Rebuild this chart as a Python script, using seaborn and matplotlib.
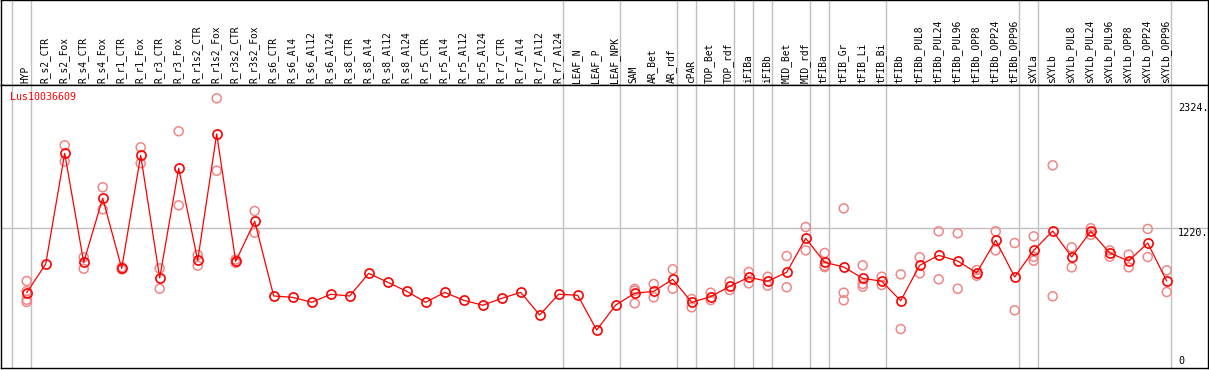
"""
plot.py

Expression profile of Lus10036609 across tissues / treatments.
Mean per sample (red line) with single replicates (light circles).
"""

# =============================================================================
# IMPORTS
# =============================================================================

import numpy as np
import pandas as pd

import matplotlib
matplotlib.use("Agg")
import matplotlib.pyplot as plt
import seaborn as sns


# =============================================================================
# DATA
# =============================================================================

GENE_ID = "Lus10036609"

samples = [
    "HYP",
    "R_s2_CTR", "R_s2_Fox", "R_s4_CTR", "R_s4_Fox",
    "R_r1_CTR", "R_r1_Fox", "R_r3_CTR", "R_r3_Fox",
    "R_r1s2_CTR", "R_r1s2_Fox", "R_r3s2_CTR", "R_r3s2_Fox",
    "R_s6_CTR", "R_s6_Al4", "R_s6_Al12", "R_s6_Al24",
    "R_s8_CTR", "R_s8_Al4", "R_s8_Al12", "R_s8_Al24",
    "R_r5_CTR", "R_r5_Al4", "R_r5_Al12", "R_r5_Al24",
    "R_r7_CTR", "R_r7_Al4", "R_r7_Al12", "R_r7_Al24",
    "LEAF_N", "LEAF_P", "LEAF_NPK",
    "SAM", "AR_Bet", "AR_rdf", "cPAR", "TOP_Bet", "TOP_rdf",
    "iFIBa", "iFIBb", "MID_Bet", "MID_rdf",
    "tFIBa", "tFIB_Gr", "tFIB_Li", "tFIB_Bi",
    "tFIBb", "tFIBb_PUL8", "tFIBb_PUL24", "tFIBb_PUL96",
    "tFIBb_OPP8", "tFIBb_OPP24", "tFIBb_OPP96",
    "sXYLa",
    "sXYLb", "sXYLb_PUL8", "sXYLb_PUL24", "sXYLb_PUL96",
    "sXYLb_OPP8", "sXYLb_OPP24", "sXYLb_OPP96",
]

mean_expr = [
    652, 905, 1883, 920, 1486, 867, 1865, 782, 1751, 938, 2054, 929, 1283,
    623, 611, 567, 638, 623, 823, 744, 664, 567, 655, 585, 541, 602, 655,
    455, 638, 629, 322, 543,
    647, 664, 770, 567, 617, 708, 788, 753, 832, 1132, 920, 879, 779, 753,
    581, 894, 982, 932, 826, 1115, 791, 1026, 1197, 967, 1194, 1003, 932,
    1091, 755,
]

replicates = [
    [755, 665, 590, 570], [], [1954, 1812], [965, 864], [1583, 1389],
    [876, 858], [1936, 1795], [867, 687], [2078, 1424], [985, 890],
    [2369, 1730], [945, 915], [1374, 1182],
    [], [], [], [], [], [], [], [], [], [], [], [], [], [], [], [], [], [], [],
    [685, 670, 558], [729, 611], [859, 687], [596, 523], [652, 587],
    [749, 676], [835, 735], [793, 714], [976, 700], [1232, 1026],
    [1003, 890, 878], [1397, 652, 585], [894, 729, 705], [793, 720],
    [814, 331], [965, 823], [1194, 770], [1177, 687], [852, 802],
    [1194, 1026], [1091, 496], [1150, 970, 935], [1777, 620],
    [1053, 876], [1221, 1164], [1026, 970], [988, 876], [1215, 967],
    [850, 658],
]

# last sample index of each group (group separators)
group_ends = [-1, 0, 28, 31, 34, 35, 37, 38, 39, 41, 42, 45, 52, 53, 60]

scale_labels = ["2324.", "1220.", "0"]
scale_values = [2324, 1220, 0]


# =============================================================================
# CONFIGURATION
# =============================================================================

W, H = 1209, 370

MEAN_COLOR = "#ff0000"
REP_COLOR = "#f08686"
GRID_COLOR = "#c0c0c0"

sns.set_style("white")
plt.rcParams["font.family"] = ["DejaVu Sans Mono"]

FONT_SIZE = 6.9


def px_axes(fig, x0, y0, x1, y1):
    """Axes placed with image pixel coords (origin top-left)."""
    return fig.add_axes([x0 / W, 1 - y1 / H, (x1 - x0) / W, (y1 - y0) / H])


# pixel geometry
COL0_PX = 26.7
COL_STEP = 19.0
Y0_PX = 366.5
Y_SCALE = 0.1132

x_lim = ((1 - COL0_PX) / COL_STEP, (1208 - COL0_PX) / COL_STEP)
y_lim = ((Y0_PX - 368) / Y_SCALE, (Y0_PX - 85) / Y_SCALE)


# =============================================================================
# BUILD DATAFRAMES
# =============================================================================

mean_df = pd.DataFrame({
    "pos": np.arange(len(samples)),
    "sample": samples,
    "value": mean_expr,
})

rep_rows = []
for i, reps in enumerate(replicates):
    for v in reps:
        rep_rows.append({"pos": i, "sample": samples[i], "value": v})
rep_df = pd.DataFrame(rep_rows)


# =============================================================================
# PLOT
# =============================================================================

fig = plt.figure(figsize=(W / 100, H / 100), dpi=100)

ax_head = px_axes(fig, 1, 0, 1208, 85)
ax = px_axes(fig, 1, 85, 1208, 368)

for a in (ax, ax_head):
    a.set_xlim(*x_lim)
    a.set_xticks([])
    a.set_yticks([])
    for sp in a.spines.values():
        sp.set_color("black")
        sp.set_linewidth(1.0)
    for e in group_ends:
        a.axvline(e + 0.21, color=GRID_COLOR, linewidth=1.0, zorder=0)

ax_head.set_ylim(0, 85)
ax.set_ylim(*y_lim)

ax.axhline(1220, color=GRID_COLOR, linewidth=1.0, zorder=0)

# replicates
sns.scatterplot(
    data=rep_df,
    x="pos",
    y="value",
    ax=ax,
    marker="o",
    s=42,
    facecolor="none",
    edgecolor=REP_COLOR,
    linewidth=1.1,
    zorder=2,
)

# mean profile
sns.lineplot(
    data=mean_df,
    x="pos",
    y="value",
    ax=ax,
    color=MEAN_COLOR,
    linewidth=0.9,
    marker="o",
    markersize=6.6,
    markerfacecolor="none",
    markeredgecolor=MEAN_COLOR,
    markeredgewidth=1.2,
    zorder=3,
)

ax.set_xlabel("")
ax.set_ylabel("")
ax.set_xlim(*x_lim)
ax.set_ylim(*y_lim)

# sample labels in header
for i, name in enumerate(samples):
    ax_head.text(
        i - 0.05, 2, name,
        rotation=90, ha="center", va="bottom",
        fontsize=FONT_SIZE, color="black",
    )

# gene id
ax.text(
    (10 - COL0_PX) / COL_STEP, (Y0_PX - 97) / Y_SCALE, GENE_ID,
    ha="left", va="center", fontsize=FONT_SIZE + 0.2, color=MEAN_COLOR,
)

# scale labels on the right
label_x = (1178 - COL0_PX) / COL_STEP
for lab, v in zip(scale_labels, scale_values):
    ax.text(
        label_x, v, lab,
        ha="left", va="bottom" if v == 0 else "top",
        fontsize=FONT_SIZE + 0.4, color="black",
    )

fig.savefig("out.png", dpi=100)
plt.close(fig)
